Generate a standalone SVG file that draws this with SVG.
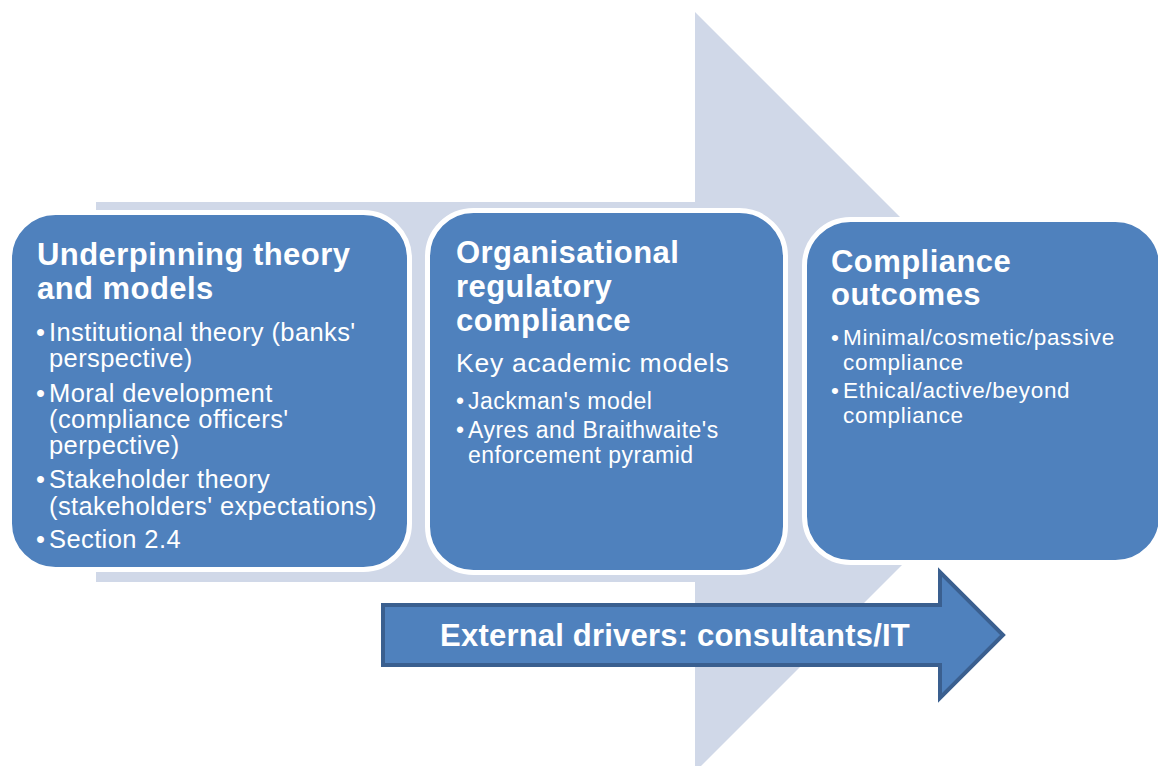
<svg xmlns="http://www.w3.org/2000/svg" width="1158" height="766" viewBox="0 0 1158 766">
<style>
.box{fill:#4F81BD;stroke:#FFFFFF;stroke-width:5}
.t{font-family:"Liberation Sans",Arial,sans-serif;fill:#FFFFFF}
.h{font-weight:bold;font-size:31px;letter-spacing:0.45px}
.b1{font-size:25.5px;letter-spacing:0.4px}
.b2{font-size:23px;letter-spacing:0.5px}
.b3{font-size:22.5px;letter-spacing:0.7px}
.sub{font-size:26.5px;letter-spacing:0.75px}
</style>
<rect width="1158" height="766" fill="#FFFFFF"/>
<g id="background-arrow">
<polygon points="96,202 695,202 695,12 1075,392 695,772 695,582 96,582" fill="#D0D8E8"/>
</g>
<g id="node-underpinning">
<rect class="box" x="9.5" y="212.5" width="400" height="357" rx="46"/>
<text class="t h" x="37" y="265">Underpinning theory</text>
<text class="t h" x="37" y="299">and models</text>
<g class="t b1">
<text x="36" y="341">•</text><text x="49" y="341">Institutional theory (banks'</text>
<text x="49" y="367">perspective)</text>
<text x="36" y="402">•</text><text x="49" y="402">Moral development</text>
<text x="49" y="428">(compliance officers'</text>
<text x="49" y="454">perpective)</text>
<text x="36" y="488">•</text><text x="49" y="488">Stakeholder theory</text>
<text x="49" y="515">(stakeholders' expectations)</text>
<text x="36" y="548">•</text><text x="49" y="548">Section 2.4</text>
</g>
</g>
<g id="node-organisational">
<rect class="box" x="427.5" y="210.5" width="358" height="362" rx="46"/>
<text class="t h" x="456" y="263">Organisational</text>
<text class="t h" x="456" y="297">regulatory</text>
<text class="t h" x="456" y="331">compliance</text>
<text class="t sub" x="456" y="372">Key academic models</text>
<g class="t b2">
<text x="456" y="409">•</text><text x="468" y="409">Jackman's model</text>
<text x="456" y="438">•</text><text x="468" y="438">Ayres and Braithwaite's</text>
<text x="468" y="463">enforcement pyramid</text>
</g>
</g>
<g id="node-outcomes">
<rect class="box" x="804.5" y="219.5" width="357" height="343" rx="46"/>
<text class="t h" x="831" y="272">Compliance</text>
<text class="t h" x="831" y="305">outcomes</text>
<g class="t b3">
<text x="831" y="345">•</text><text x="843" y="345">Minimal/cosmetic/passive</text>
<text x="843" y="370">compliance</text>
<text x="831" y="398">•</text><text x="843" y="398">Ethical/active/beyond</text>
<text x="843" y="423">compliance</text>
</g>
</g>
<g id="node-external-drivers">
<polygon points="383,605 940,605 940,572 1003,635 940,698 940,665 383,665" fill="#4F81BD" stroke="#3A5F8F" stroke-width="4" stroke-linejoin="miter"/>
<text class="t" x="675" y="646" text-anchor="middle" font-weight="bold" font-size="31px" letter-spacing="0.2px">External drivers: consultants/IT</text>
</g>
<g id="connectors"></g>
</svg>
